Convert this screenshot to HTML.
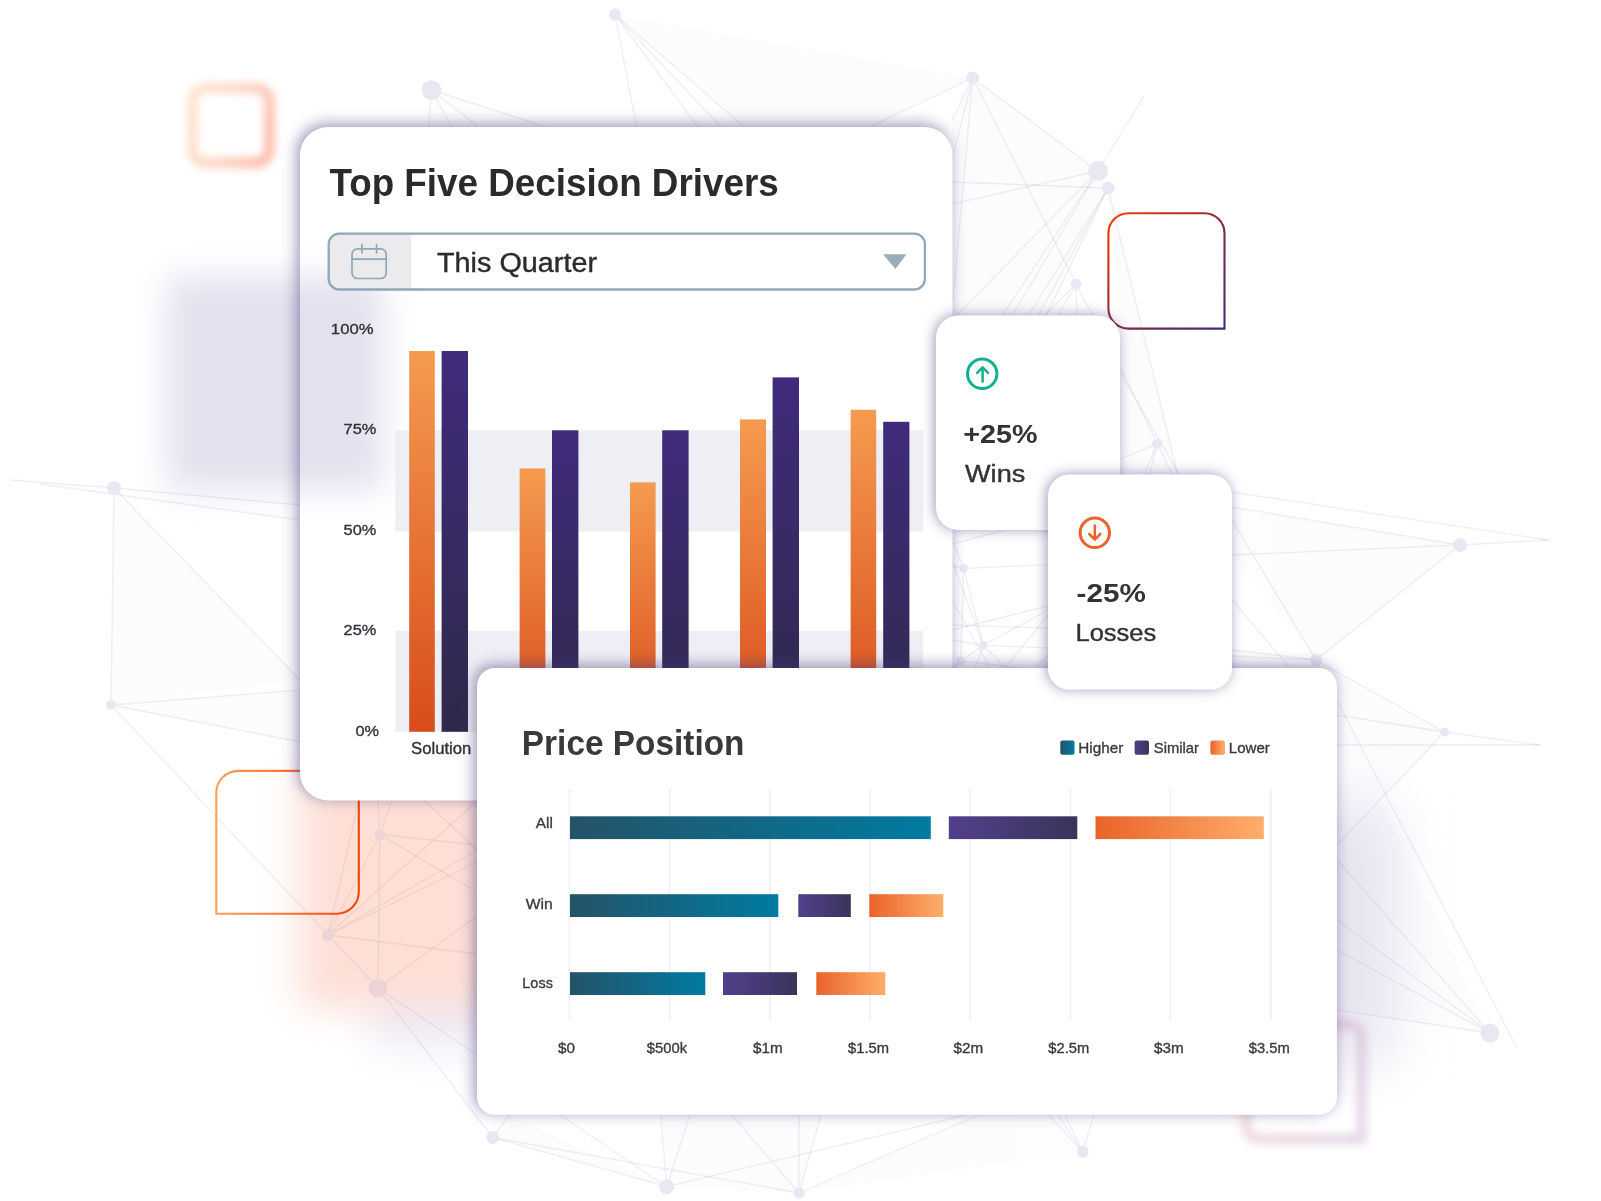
<!DOCTYPE html>
<html lang="en"><head><meta charset="utf-8"><title>Dashboard</title>
<style>
html,body{margin:0;padding:0;background:#fff;}
body{width:1601px;height:1201px;overflow:hidden;font-family:"Liberation Sans",sans-serif;}
svg{display:block;font-family:"Liberation Sans",sans-serif;}
</style></head><body>
<svg width="1601" height="1201" viewBox="0 0 1601 1201">
<defs>
<linearGradient id="gOr" x1="0" y1="0" x2="0" y2="1"><stop offset="0" stop-color="#f59b4f"/><stop offset="1" stop-color="#d84c1c"/></linearGradient>
<linearGradient id="gPu" x1="0" y1="0" x2="0" y2="1"><stop offset="0" stop-color="#402b7c"/><stop offset="1" stop-color="#2f294b"/></linearGradient>
<linearGradient id="hT" x1="0" y1="0" x2="1" y2="0"><stop offset="0" stop-color="#245368"/><stop offset="1" stop-color="#007ba1"/></linearGradient>
<linearGradient id="hP" x1="0" y1="0" x2="1" y2="0"><stop offset="0" stop-color="#523f8c"/><stop offset="1" stop-color="#3a345b"/></linearGradient>
<linearGradient id="hO" x1="0" y1="0" x2="1" y2="0"><stop offset="0" stop-color="#e9632a"/><stop offset="1" stop-color="#feae6b"/></linearGradient>
<linearGradient id="sqTR" x1="0" y1="0" x2="1" y2="1"><stop offset="0" stop-color="#ff3b00"/><stop offset="0.5" stop-color="#8e2838"/><stop offset="1" stop-color="#3b2c80"/></linearGradient>
<linearGradient id="sqBL" x1="0" y1="0" x2="1" y2="0"><stop offset="0" stop-color="#ff9f58"/><stop offset="1" stop-color="#f0440a"/></linearGradient>
<linearGradient id="sqTL" x1="0" y1="0.2" x2="1" y2="0.6"><stop offset="0" stop-color="#ffe2cc"/><stop offset="0.55" stop-color="#fdd3c2"/><stop offset="1" stop-color="#fcb9a8"/></linearGradient>
<linearGradient id="sqBR" x1="0" y1="0" x2="1" y2="0.3"><stop offset="0" stop-color="#eba8a0"/><stop offset="1" stop-color="#bf9fc4"/></linearGradient>
<filter id="sh" x="-20%" y="-20%" width="140%" height="140%"><feGaussianBlur stdDeviation="7.5"/></filter>
<filter id="shS" x="-30%" y="-30%" width="160%" height="160%"><feGaussianBlur stdDeviation="6.5"/></filter>
<filter id="b5" x="-30%" y="-30%" width="160%" height="160%"><feGaussianBlur stdDeviation="4.5"/></filter>
<filter id="b4" x="-30%" y="-30%" width="160%" height="160%"><feGaussianBlur stdDeviation="4"/></filter>
<filter id="b15" x="-50%" y="-50%" width="200%" height="200%"><feGaussianBlur stdDeviation="19"/></filter>
<filter id="b28" x="-60%" y="-60%" width="220%" height="220%"><feGaussianBlur stdDeviation="27"/></filter>
<filter id="b25" x="-50%" y="-50%" width="200%" height="200%"><feGaussianBlur stdDeviation="22"/></filter>
<filter id="b18" x="-50%" y="-50%" width="200%" height="200%"><feGaussianBlur stdDeviation="17"/></filter>
<filter id="b30" x="-50%" y="-50%" width="200%" height="200%"><feGaussianBlur stdDeviation="26"/></filter>
</defs>
<rect width="1601" height="1201" fill="#ffffff"/>

<g>
<rect x="370" y="940" width="200" height="105" fill="#ece9f4" filter="url(#b25)"/>
<rect x="299" y="770" width="264" height="238" fill="#fddfd6" filter="url(#b15)"/>
<rect x="1250" y="805" width="146" height="260" fill="#eae7f2" filter="url(#b28)"/>
</g>
<g fill="#8a7fb5" opacity="0.016">
<polygon points="615.0,14.5 972.7,78.0 870.0,127.0 744.0,127.0"/>
<polygon points="431.5,90.0 546.7,127.0 428.5,127.0"/>
<polygon points="972.7,78.0 1098.0,171.0 952.0,204.0 952.0,120.0"/>
<polygon points="1098.0,171.0 957.0,315.0 952.0,204.0"/>
<polygon points="1098.0,171.0 1108.0,188.0 1046.0,316.0 957.0,315.0"/>
<polygon points="114.0,488.0 111.0,705.0 300.0,680.0"/>
<polygon points="111.0,705.0 300.0,690.0 300.0,742.0"/>
<polygon points="1108.0,188.0 1177.5,474.0 1120.0,474.0 1120.0,330.0"/>
<polygon points="1460.0,545.0 1316.0,660.0 1232.0,555.0 1232.0,507.0"/>
<polygon points="1316.0,660.0 1444.7,732.0 1337.0,845.0 1337.0,690.0"/>
<polygon points="1316.0,660.0 1490.0,1033.0 1337.0,1010.0 1337.0,690.0"/>
<polygon points="492.7,1137.5 666.6,1186.7 509.0,1115.0"/>
<polygon points="799.0,1193.0 1082.6,1151.7 1049.0,1115.0 978.0,1115.0"/>
<polygon points="666.6,1186.7 799.0,1193.0 821.0,1115.0 660.7,1115.0"/>
</g>
<g stroke="#9089b3" stroke-opacity="0.14" stroke-width="1.35" fill="none" stroke-linecap="round">
<line x1="615.0" y1="14.5" x2="636.6" y2="127.0"/>
<line x1="615.0" y1="14.5" x2="698.0" y2="127.0"/>
<line x1="615.0" y1="14.5" x2="721.0" y2="127.0"/>
<line x1="615.0" y1="14.5" x2="744.0" y2="127.0"/>
<line x1="431.5" y1="90.0" x2="428.5" y2="127.0"/>
<line x1="431.5" y1="90.0" x2="451.7" y2="127.0"/>
<line x1="431.5" y1="90.0" x2="478.8" y2="127.0"/>
<line x1="431.5" y1="90.0" x2="546.7" y2="127.0"/>
<line x1="972.7" y1="78.0" x2="870.0" y2="127.0"/>
<line x1="972.7" y1="78.0" x2="1098.0" y2="171.0"/>
<line x1="972.7" y1="78.0" x2="1076.0" y2="284.0"/>
<line x1="972.7" y1="78.0" x2="953.0" y2="300.0"/>
<line x1="972.7" y1="78.0" x2="952.0" y2="160.0"/>
<line x1="972.7" y1="78.0" x2="952.0" y2="120.0"/>
<line x1="1098.0" y1="171.0" x2="1144.0" y2="96.0"/>
<line x1="1098.0" y1="171.0" x2="952.0" y2="204.0"/>
<line x1="1108.0" y1="188.0" x2="952.0" y2="182.0"/>
<line x1="1098.0" y1="171.0" x2="957.0" y2="315.0"/>
<line x1="1098.0" y1="171.0" x2="1002.0" y2="316.0"/>
<line x1="1098.0" y1="171.0" x2="1012.0" y2="316.0"/>
<line x1="1108.0" y1="188.0" x2="1028.0" y2="316.0"/>
<line x1="1108.0" y1="188.0" x2="1038.0" y2="316.0"/>
<line x1="1108.0" y1="188.0" x2="1046.0" y2="316.0"/>
<line x1="1076.0" y1="284.0" x2="1044.0" y2="316.0"/>
<line x1="1076.0" y1="284.0" x2="1058.0" y2="316.0"/>
<line x1="1076.0" y1="284.0" x2="1077.0" y2="316.0"/>
<line x1="1076.0" y1="284.0" x2="1093.0" y2="316.0"/>
<line x1="1108.0" y1="188.0" x2="1177.5" y2="474.0"/>
<line x1="1120.0" y1="366.0" x2="1172.0" y2="474.0"/>
<line x1="1120.0" y1="372.0" x2="1179.0" y2="474.0"/>
<line x1="1157.0" y1="443.7" x2="1120.0" y2="459.0"/>
<line x1="1157.0" y1="443.7" x2="1145.0" y2="474.0"/>
<line x1="1157.0" y1="443.7" x2="1150.0" y2="474.0"/>
<line x1="114.0" y1="488.0" x2="11.0" y2="480.0"/>
<line x1="114.0" y1="488.0" x2="300.0" y2="505.0"/>
<line x1="40.0" y1="484.0" x2="300.0" y2="520.0"/>
<line x1="114.0" y1="488.0" x2="111.0" y2="705.0"/>
<line x1="114.0" y1="488.0" x2="300.0" y2="680.0"/>
<line x1="111.0" y1="705.0" x2="300.0" y2="690.0"/>
<line x1="111.0" y1="705.0" x2="300.0" y2="742.0"/>
<line x1="111.0" y1="705.0" x2="378.0" y2="988.0"/>
<line x1="1548.0" y1="540.0" x2="1460.0" y2="545.0"/>
<line x1="1460.0" y1="545.0" x2="1232.0" y2="507.0"/>
<line x1="1460.0" y1="545.0" x2="1232.0" y2="555.0"/>
<line x1="1548.0" y1="540.0" x2="1232.0" y2="492.0"/>
<line x1="1460.0" y1="545.0" x2="1316.0" y2="660.0"/>
<line x1="1316.0" y1="660.0" x2="1232.0" y2="520.0"/>
<line x1="1316.0" y1="660.0" x2="1232.0" y2="650.0"/>
<line x1="1316.0" y1="660.0" x2="1232.0" y2="656.0"/>
<line x1="1232.0" y1="600.0" x2="1290.0" y2="668.0"/>
<line x1="1316.0" y1="660.0" x2="1444.7" y2="732.0"/>
<line x1="1444.7" y1="732.0" x2="1540.0" y2="745.0"/>
<line x1="1444.7" y1="732.0" x2="1337.0" y2="715.0"/>
<line x1="1540.0" y1="745.0" x2="1337.0" y2="745.0"/>
<line x1="1444.7" y1="732.0" x2="1337.0" y2="845.0"/>
<line x1="1316.0" y1="660.0" x2="1517.0" y2="1048.0"/>
<line x1="1490.0" y1="1033.0" x2="1337.0" y2="920.0"/>
<line x1="1490.0" y1="1033.0" x2="1337.0" y2="950.0"/>
<line x1="1490.0" y1="1033.0" x2="1337.0" y2="1010.0"/>
<line x1="1490.0" y1="1033.0" x2="1337.0" y2="860.0"/>
<line x1="952.0" y1="544.0" x2="1005.0" y2="530.0"/>
<line x1="963.7" y1="568.3" x2="1048.0" y2="564.7"/>
<line x1="963.7" y1="568.3" x2="983.3" y2="645.3"/>
<line x1="963.7" y1="568.3" x2="960.7" y2="660.7"/>
<line x1="963.7" y1="568.3" x2="952.0" y2="540.0"/>
<line x1="963.7" y1="568.3" x2="952.0" y2="566.0"/>
<line x1="952.0" y1="560.0" x2="983.3" y2="645.3"/>
<line x1="952.0" y1="600.0" x2="990.0" y2="668.0"/>
<line x1="983.3" y1="645.3" x2="1048.0" y2="648.0"/>
<line x1="983.3" y1="645.3" x2="1048.0" y2="610.0"/>
<line x1="952.0" y1="625.0" x2="1048.0" y2="628.0"/>
<line x1="952.0" y1="630.0" x2="1048.0" y2="606.0"/>
<line x1="983.3" y1="645.3" x2="952.0" y2="668.0"/>
<line x1="983.3" y1="645.3" x2="975.0" y2="668.0"/>
<line x1="983.3" y1="645.3" x2="1005.0" y2="668.0"/>
<line x1="960.7" y1="660.7" x2="1020.0" y2="668.0"/>
<line x1="983.3" y1="645.3" x2="952.0" y2="640.0"/>
<line x1="1005.0" y1="668.0" x2="1048.0" y2="615.0"/>
<line x1="1035.0" y1="668.0" x2="1048.0" y2="655.0"/>
<line x1="379.8" y1="834.7" x2="378.0" y2="800.0" stroke="#a37a8e"/>
<line x1="379.8" y1="834.7" x2="392.0" y2="800.0" stroke="#a37a8e"/>
<line x1="379.8" y1="834.7" x2="328.0" y2="935.0" stroke="#a37a8e"/>
<line x1="379.8" y1="834.7" x2="378.0" y2="988.0" stroke="#a37a8e"/>
<line x1="379.8" y1="834.7" x2="477.0" y2="845.0" stroke="#a37a8e"/>
<line x1="379.8" y1="834.7" x2="477.0" y2="892.0" stroke="#a37a8e"/>
<line x1="424.0" y1="800.0" x2="477.0" y2="850.0" stroke="#a37a8e"/>
<line x1="328.0" y1="935.0" x2="477.0" y2="850.0" stroke="#a37a8e"/>
<line x1="328.0" y1="935.0" x2="477.0" y2="862.0" stroke="#a37a8e"/>
<line x1="328.0" y1="935.0" x2="477.0" y2="801.0" stroke="#a37a8e"/>
<line x1="328.0" y1="935.0" x2="477.0" y2="954.0" stroke="#a37a8e"/>
<line x1="328.0" y1="935.0" x2="359.0" y2="800.0" stroke="#a37a8e"/>
<line x1="378.0" y1="988.0" x2="477.0" y2="916.0" stroke="#a37a8e"/>
<line x1="378.0" y1="988.0" x2="492.7" y2="1137.5"/>
<line x1="378.0" y1="988.0" x2="477.0" y2="1055.0"/>
<line x1="492.7" y1="1137.5" x2="509.0" y2="1115.0"/>
<line x1="492.7" y1="1137.5" x2="666.6" y2="1186.7"/>
<line x1="492.7" y1="1137.5" x2="799.0" y2="1193.0"/>
<line x1="560.0" y1="1115.0" x2="666.6" y2="1186.7"/>
<line x1="666.6" y1="1186.7" x2="660.7" y2="1115.0"/>
<line x1="666.6" y1="1186.7" x2="690.0" y2="1115.0"/>
<line x1="732.0" y1="1115.0" x2="799.0" y2="1193.0"/>
<line x1="799.0" y1="1193.0" x2="799.0" y2="1115.0"/>
<line x1="799.0" y1="1193.0" x2="821.0" y2="1115.0"/>
<line x1="666.6" y1="1186.7" x2="966.0" y2="1115.0"/>
<line x1="799.0" y1="1193.0" x2="978.0" y2="1115.0"/>
<line x1="1082.6" y1="1151.7" x2="1049.0" y2="1115.0"/>
<line x1="1082.6" y1="1151.7" x2="1058.0" y2="1115.0"/>
<line x1="1082.6" y1="1151.7" x2="1065.0" y2="1115.0"/>
<line x1="1082.6" y1="1151.7" x2="1094.0" y2="1115.0"/>
</g>
<g fill="#e9e7f2">
<circle cx="615.0" cy="14.5" r="6.0"/>
<circle cx="431.5" cy="90.0" r="9.8"/>
<circle cx="972.7" cy="78.0" r="6.5"/>
<circle cx="1098.0" cy="171.0" r="10.0"/>
<circle cx="1108.0" cy="188.0" r="6.5"/>
<circle cx="1076.0" cy="284.0" r="5.5"/>
<circle cx="1157.0" cy="443.7" r="5.0"/>
<circle cx="114.0" cy="488.0" r="7.0"/>
<circle cx="111.0" cy="705.0" r="5.0"/>
<circle cx="1460.0" cy="545.0" r="7.0"/>
<circle cx="1316.0" cy="660.0" r="6.0"/>
<circle cx="1444.7" cy="732.0" r="4.5"/>
<circle cx="963.7" cy="568.3" r="4.3"/>
<circle cx="983.3" cy="645.3" r="4.3"/>
<circle cx="960.7" cy="660.7" r="4.5"/>
<circle cx="379.8" cy="834.7" r="5.5" fill="#ecd3d6"/>
<circle cx="328.0" cy="935.0" r="6.0" fill="#ecd3d6"/>
<circle cx="378.0" cy="988.0" r="9.5" fill="#ecd3d6"/>
<circle cx="1490.0" cy="1033.0" r="9.5"/>
<circle cx="492.7" cy="1137.5" r="6.5"/>
<circle cx="1082.6" cy="1151.7" r="6.0"/>
<circle cx="666.6" cy="1186.7" r="7.5"/>
<circle cx="799.0" cy="1193.0" r="5.5"/>
</g>
<rect x="192.5" y="88" width="76.8" height="74.8" rx="13" fill="none" stroke="url(#sqTL)" stroke-width="10" filter="url(#b5)"/>
<path d="M1128.4 213.2 H1204.5 A20 20 0 0 1 1224.5 233.2 V328.6 H1128.4 A20 20 0 0 1 1108.4 308.6 V233.2 A20 20 0 0 1 1128.4 213.2 Z" fill="none" stroke="url(#sqTR)" stroke-width="2.1"/>
<path d="M238.3 770.9 H358.8 V891.7 A22 22 0 0 1 336.8 913.7 H216.3 V792.9 A22 22 0 0 1 238.3 770.9 Z" fill="none" stroke="url(#sqBL)" stroke-width="2.1"/>
<path d="M1260 1024 H1347.5 A14 14 0 0 1 1361.5 1038 V1139 H1260 A14 14 0 0 1 1246 1125 V1038 A14 14 0 0 1 1260 1024 Z" fill="none" stroke="url(#sqBR)" stroke-width="10" opacity="0.42" filter="url(#b5)"/>
<rect x="297.5" y="124.5" width="652.5" height="673.5" rx="28" fill="#45387a" opacity="0.55" filter="url(#sh)"/>
<rect x="300" y="127" width="652.5" height="673.5" rx="28" fill="#ffffff"/>
<rect x="167" y="277" width="216" height="213" fill="#e4e0ee" filter="url(#b18)" style="mix-blend-mode:multiply"/>
<text x="329.40" y="196.30" font-size="39.20" font-weight="700" fill="#2b2b2b" textLength="449.35" lengthAdjust="spacingAndGlyphs">Top Five Decision Drivers</text>
<rect x="328.7" y="233.7" width="596.2" height="55.8" rx="10.5" fill="#ffffff"/>
<path d="M339.2 233.7 H411 V289.5 H339.2 A10.5 10.5 0 0 1 328.7 279 V244.2 A10.5 10.5 0 0 1 339.2 233.7 Z" fill="#ebebee"/>
<rect x="328.7" y="233.7" width="596.2" height="55.8" rx="10.5" fill="none" stroke="#8fa8b7" stroke-width="2.3"/>
<g fill="none" stroke="#8fa8b7" stroke-width="1.7" stroke-linecap="round"><rect x="352" y="248.9" width="34.2" height="29.6" rx="5.5"/><path d="M352 259.2 H386.2 M361.9 244.6 V252.8 M376.6 244.6 V252.8"/></g>
<text x="437.00" y="271.90" font-size="27.00" font-weight="400" fill="#2b2b2b" stroke="#2b2b2b" stroke-width="0.4" textLength="159.99" lengthAdjust="spacingAndGlyphs">This Quarter</text>
<path d="M883.1 254.2 H906.5 L895.4 269 Z" fill="#98acb9"/>
<rect x="395.2" y="430.3" width="528" height="101.2" fill="#eeeff4"/>
<rect x="395.2" y="631" width="528" height="100.8" fill="#eeeff4"/>
<rect x="409.2" y="351" width="25.6" height="380.8" fill="url(#gOr)"/>
<rect x="441.6" y="351" width="26.4" height="380.8" fill="url(#gPu)"/>
<rect x="519.6" y="468.4" width="25.8" height="263.4" fill="url(#gOr)"/>
<rect x="552" y="430.3" width="26.4" height="301.5" fill="url(#gPu)"/>
<rect x="630" y="482.4" width="25.6" height="249.4" fill="url(#gOr)"/>
<rect x="662.2" y="430.3" width="26.4" height="301.5" fill="url(#gPu)"/>
<rect x="740" y="419.4" width="26" height="312.4" fill="url(#gOr)"/>
<rect x="772.6" y="377.4" width="26.4" height="354.4" fill="url(#gPu)"/>
<rect x="850.6" y="409.8" width="25.6" height="322" fill="url(#gOr)"/>
<rect x="883.2" y="421.8" width="26.2" height="310" fill="url(#gPu)"/>
<text x="330.89" y="334.00" font-size="15.00" font-weight="400" fill="#2f2f38" stroke="#2f2f38" stroke-width="0.33" textLength="42.69" lengthAdjust="spacingAndGlyphs">100%</text>
<text x="343.60" y="434.00" font-size="15.00" font-weight="400" fill="#2f2f38" stroke="#2f2f38" stroke-width="0.33" textLength="32.77" lengthAdjust="spacingAndGlyphs">75%</text>
<text x="343.60" y="535.00" font-size="15.00" font-weight="400" fill="#2f2f38" stroke="#2f2f38" stroke-width="0.33" textLength="32.77" lengthAdjust="spacingAndGlyphs">50%</text>
<text x="343.60" y="635.40" font-size="15.00" font-weight="400" fill="#2f2f38" stroke="#2f2f38" stroke-width="0.33" textLength="32.77" lengthAdjust="spacingAndGlyphs">25%</text>
<text x="355.40" y="736.40" font-size="15.00" font-weight="400" fill="#2f2f38" stroke="#2f2f38" stroke-width="0.33" textLength="23.57" lengthAdjust="spacingAndGlyphs">0%</text>
<text x="411.00" y="754.40" font-size="16.00" font-weight="400" fill="#2f2f38" stroke="#2f2f38" stroke-width="0.33" textLength="60.34" lengthAdjust="spacingAndGlyphs">Solution</text>
<rect x="934.5" y="315.1" width="184" height="214.4" rx="22" fill="#45387a" opacity="0.5" filter="url(#shS)"/>
<rect x="936" y="315.6" width="184" height="214.4" rx="22" fill="#ffffff"/>
<g fill="none" stroke="#13b08e" stroke-linecap="round" stroke-linejoin="round"><circle cx="982.2" cy="373.8" r="14.7" stroke-width="3"/><path d="M982.6 381.4 V367.6 M977.2 372.8 L982.6 367.3 L988 372.8" stroke-width="2.5"/></g>
<text x="963.26" y="443.00" font-size="25.20" font-weight="700" fill="#333333" textLength="74.19" lengthAdjust="spacingAndGlyphs">+25%</text>
<text x="965.00" y="482.00" font-size="24.60" font-weight="400" fill="#333333" stroke="#333333" stroke-width="0.4" textLength="60.33" lengthAdjust="spacingAndGlyphs">Wins</text>
<rect x="474.5" y="665.5" width="860" height="446.8" rx="18" fill="#45387a" opacity="0.55" filter="url(#sh)"/>
<rect x="477" y="668" width="860" height="446.8" rx="18" fill="#ffffff"/>
<text x="521.86" y="755.00" font-size="34.40" font-weight="700" fill="#393939" textLength="222.59" lengthAdjust="spacingAndGlyphs">Price Position</text>
<rect x="1060.3" y="740.6" width="14.2" height="14.2" rx="2" fill="url(#hT)"/>
<text x="1078.27" y="753.30" font-size="14.80" font-weight="400" fill="#39393f" stroke="#39393f" stroke-width="0.33" textLength="44.96" lengthAdjust="spacingAndGlyphs">Higher</text>
<rect x="1134.6" y="740.6" width="14.4" height="14.2" rx="2" fill="url(#hP)"/>
<text x="1153.80" y="753.30" font-size="14.80" font-weight="400" fill="#39393f" stroke="#39393f" stroke-width="0.33" textLength="45.13" lengthAdjust="spacingAndGlyphs">Similar</text>
<rect x="1210.4" y="740.6" width="14.6" height="14.2" rx="2" fill="url(#hO)"/>
<text x="1228.78" y="753.30" font-size="14.80" font-weight="400" fill="#39393f" stroke="#39393f" stroke-width="0.33" textLength="41.15" lengthAdjust="spacingAndGlyphs">Lower</text>
<g stroke="#efeff3" stroke-width="1.5">
<line x1="569.4" y1="789" x2="569.4" y2="1020.5"/>
<line x1="669.6" y1="789" x2="669.6" y2="1020.5"/>
<line x1="769.8" y1="789" x2="769.8" y2="1020.5"/>
<line x1="870.0" y1="789" x2="870.0" y2="1020.5"/>
<line x1="970.2" y1="789" x2="970.2" y2="1020.5"/>
<line x1="1070.4" y1="789" x2="1070.4" y2="1020.5"/>
<line x1="1170.6" y1="789" x2="1170.6" y2="1020.5"/>
<line x1="1270.8" y1="789" x2="1270.8" y2="1020.5"/>
</g>
<rect x="570" y="816.3" width="360.8" height="22.8" fill="url(#hT)"/>
<rect x="948.8" y="816.3" width="128.5" height="22.8" fill="url(#hP)"/>
<rect x="1095.5" y="816.3" width="168.3" height="22.8" fill="url(#hO)"/>
<rect x="570" y="894.2" width="208.3" height="22.8" fill="url(#hT)"/>
<rect x="798.3" y="894.2" width="52.5" height="22.8" fill="url(#hP)"/>
<rect x="869.3" y="894.2" width="74" height="22.8" fill="url(#hO)"/>
<rect x="570" y="972.2" width="135.3" height="22.8" fill="url(#hT)"/>
<rect x="723" y="972.2" width="74" height="22.8" fill="url(#hP)"/>
<rect x="816.3" y="972.2" width="69" height="22.8" fill="url(#hO)"/>
<text x="535.80" y="828.30" font-size="14.80" font-weight="400" fill="#39393f" stroke="#39393f" stroke-width="0.33" textLength="17.00" lengthAdjust="spacingAndGlyphs">All</text>
<text x="525.80" y="909.30" font-size="14.80" font-weight="400" fill="#39393f" stroke="#39393f" stroke-width="0.33" textLength="26.94" lengthAdjust="spacingAndGlyphs">Win</text>
<text x="522.32" y="988.30" font-size="14.80" font-weight="400" fill="#39393f" stroke="#39393f" stroke-width="0.33" textLength="30.57" lengthAdjust="spacingAndGlyphs">Loss</text>
<text x="558.00" y="1053.30" font-size="15.20" font-weight="400" fill="#39393f" stroke="#39393f" stroke-width="0.33" textLength="16.95" lengthAdjust="spacingAndGlyphs">$0</text>
<text x="646.80" y="1053.30" font-size="15.20" font-weight="400" fill="#39393f" stroke="#39393f" stroke-width="0.33" textLength="40.30" lengthAdjust="spacingAndGlyphs">$500k</text>
<text x="753.00" y="1053.30" font-size="15.20" font-weight="400" fill="#39393f" stroke="#39393f" stroke-width="0.33" textLength="29.65" lengthAdjust="spacingAndGlyphs">$1m</text>
<text x="848.00" y="1053.30" font-size="15.20" font-weight="400" fill="#39393f" stroke="#39393f" stroke-width="0.33" textLength="40.93" lengthAdjust="spacingAndGlyphs">$1.5m</text>
<text x="953.50" y="1053.30" font-size="15.20" font-weight="400" fill="#39393f" stroke="#39393f" stroke-width="0.33" textLength="29.65" lengthAdjust="spacingAndGlyphs">$2m</text>
<text x="1048.30" y="1053.30" font-size="15.20" font-weight="400" fill="#39393f" stroke="#39393f" stroke-width="0.33" textLength="40.93" lengthAdjust="spacingAndGlyphs">$2.5m</text>
<text x="1154.00" y="1053.30" font-size="15.20" font-weight="400" fill="#39393f" stroke="#39393f" stroke-width="0.33" textLength="29.65" lengthAdjust="spacingAndGlyphs">$3m</text>
<text x="1248.80" y="1053.30" font-size="15.20" font-weight="400" fill="#39393f" stroke="#39393f" stroke-width="0.33" textLength="41.03" lengthAdjust="spacingAndGlyphs">$3.5m</text>
<rect x="1046.5" y="474" width="184" height="215" rx="21" fill="#45387a" opacity="0.5" filter="url(#shS)"/>
<rect x="1048" y="474.5" width="184" height="215" rx="21" fill="#ffffff"/>
<g fill="none" stroke="#e8632a" stroke-linecap="round" stroke-linejoin="round"><circle cx="1094.8" cy="532.8" r="14.7" stroke-width="3"/><path d="M1094.8 525.6 V539.4 M1089.3 534 L1094.8 539.6 L1100.3 534" stroke-width="2.5"/></g>
<text x="1076.60" y="602.40" font-size="25.20" font-weight="700" fill="#333333" textLength="69.27" lengthAdjust="spacingAndGlyphs">-25%</text>
<text x="1075.53" y="641.00" font-size="24.60" font-weight="400" fill="#333333" stroke="#333333" stroke-width="0.4" textLength="80.78" lengthAdjust="spacingAndGlyphs">Losses</text>
</svg></body></html>
